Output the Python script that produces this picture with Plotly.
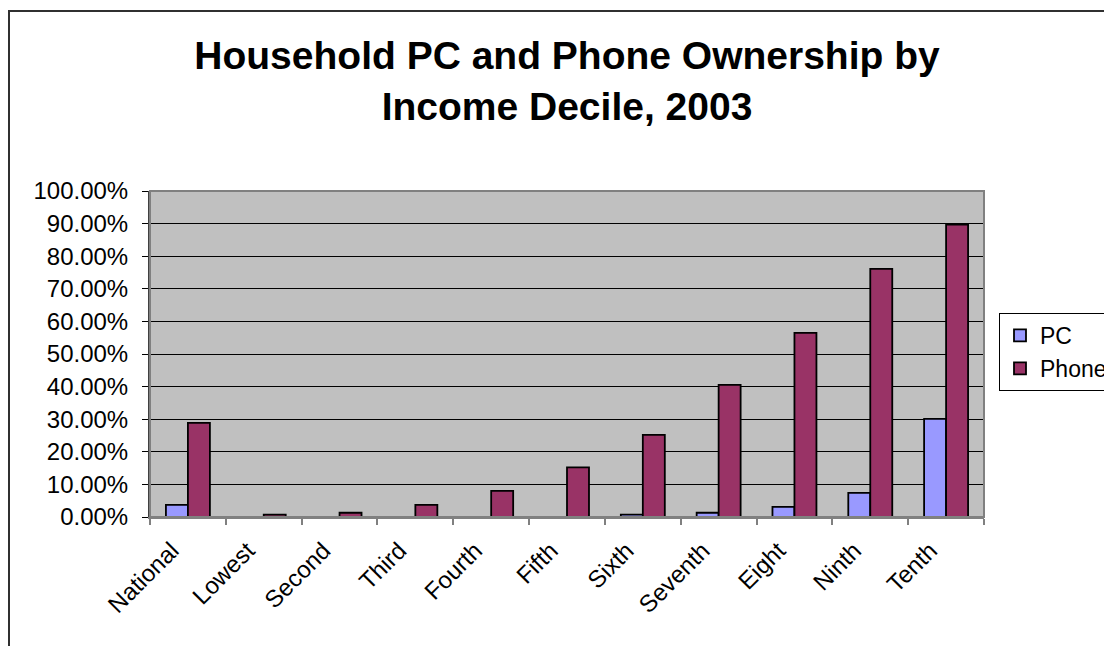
import plotly.graph_objects as go

categories = ["National", "Lowest", "Second", "Third", "Fourth", "Fifth",
              "Sixth", "Seventh", "Eight", "Ninth", "Tenth"]
pc_values = [0.037, 0.0, 0.0, 0.0, 0.0, 0.0, 0.007, 0.013, 0.031, 0.074, 0.301]
phone_values = [0.289, 0.007, 0.013, 0.037, 0.080, 0.152, 0.252, 0.405, 0.565, 0.761, 0.897]
y_ticks = [i / 10 for i in range(11)]

FONT = "Liberation Sans, Arial, sans-serif"

# page body has an 8px margin, so the figure is sized/offset accordingly
W, H = 1104, 638
L, T, R, B = 142, 183, 128, 129
PW, PH = W - L - R, H - T - B

fig = go.Figure()
fig.add_trace(go.Bar(name="PC", x=categories, y=pc_values,
                     marker=dict(color="#9999FF", line=dict(color="black", width=1.8))))
fig.add_trace(go.Bar(name="Phone", x=categories, y=phone_values,
                     marker=dict(color="#993366", line=dict(color="black", width=1.8))))

fig.update_layout(
    width=W, height=H,
    margin=dict(l=L, r=R, t=T, b=B, autoexpand=False),
    paper_bgcolor="white",
    plot_bgcolor="#C0C0C0",
    barmode="group",
    bargap=0.42,
    bargroupgap=0,
    font=dict(family=FONT, size=24, color="black"),
    title=dict(text="<b>Household PC and Phone Ownership by<br>Income Decile, 2003</b>",
               x=0.5, xref="paper", xanchor="center",
               y=1 - 61 / H, yref="container", yanchor="middle",
               font=dict(family=FONT, size=39, color="black")),
    legend=dict(x=(991 - L) / PW, y=(T + PH - 305) / PH, xanchor="left", yanchor="top",
                bgcolor="white", bordercolor="black", borderwidth=1,
                font=dict(family=FONT, size=23), tracegroupgap=4),
    xaxis=dict(tickangle=-45, ticks="outside", ticklen=6, tickcolor="#808080",
               tickwidth=2, tickson="boundaries", showline=True, linecolor="#808080",
               linewidth=2, showgrid=False, tickfont=dict(size=24),
               ticklabelshift=-16, ticklabelstandoff=8),
    yaxis=dict(range=[0, 1], tickvals=y_ticks, tickformat=".2%", ticks="outside",
               ticklen=6, tickcolor="black", showgrid=True, gridcolor="black",
               gridwidth=1, zeroline=False, showline=True, linecolor="#404040",
               linewidth=2, tickfont=dict(size=24), ticklabelstandoff=9),
    shapes=[
        dict(type="rect", xref="x domain", yref="y domain", x0=0, x1=1, y0=0, y1=1,
             line=dict(color="#808080", width=2), layer="above"),
        dict(type="rect", xref="paper", yref="paper",
             x0=(1 - L) / PW, x1=(W + 20 - L) / PW,
             y0=(T + PH - (H + 20)) / PH, y1=(T + PH - 3) / PH,
             line=dict(color="#303030", width=2)),
    ],
)

fig.write_html("out.html")
